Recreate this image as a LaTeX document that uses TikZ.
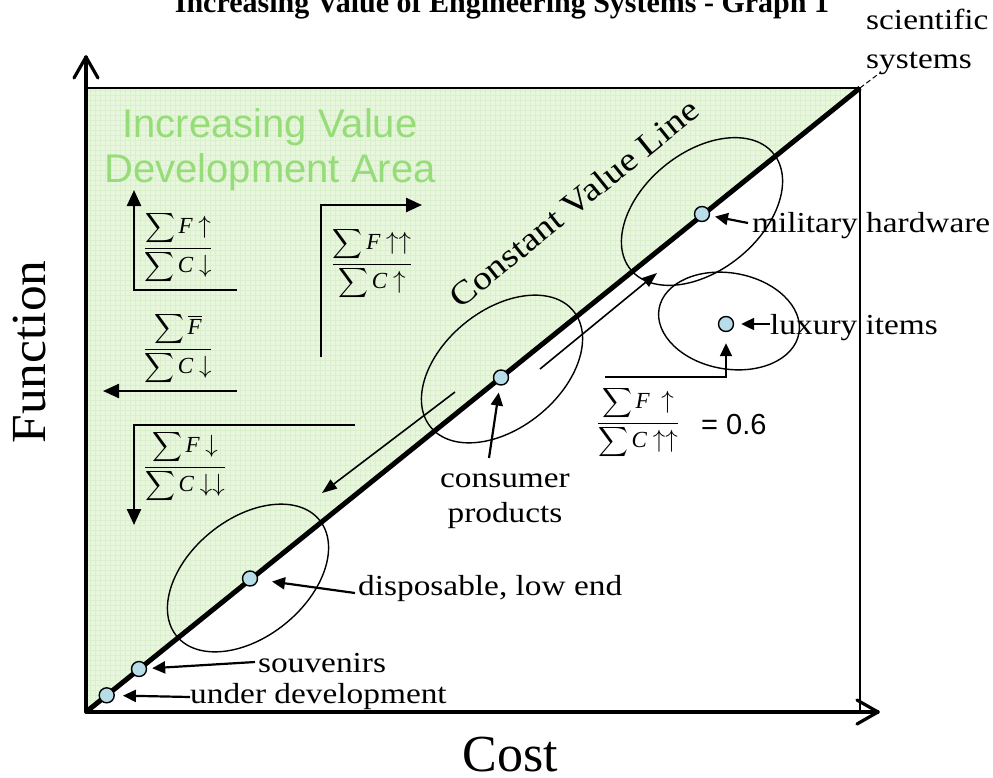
\documentclass[tikz,border=0pt]{standalone}
\usepackage{exscale}
\usepackage{fontspec}
\setmainfont{Liberation Serif}
\newfontfamily\mincho[FakeStretch=1.15]{Liberation Serif}
\newfontfamily\bigmincho[FakeStretch=1.05]{Liberation Serif}
\newfontfamily\arialf{Liberation Sans}
\usetikzlibrary{arrows.meta}
\newcommand{\vF}{\mathord{\hbox{\fontsize{23}{26}\selectfont\itshape F}}}
\newcommand{\vC}{\mathord{\hbox{\fontsize{23}{26}\selectfont\itshape C}}}
\newcommand{\au}{\mathrel{\hbox{\fontsize{24.88}{26}\selectfont$\uparrow$}}}
\newcommand{\ad}{\mathrel{\hbox{\fontsize{24.88}{26}\selectfont$\downarrow$}}}
\definecolor{areagreen}{RGB}{231,246,221}
\definecolor{gridgreen}{RGB}{218,239,204}
\definecolor{textgreen}{RGB}{150,220,120}
\definecolor{ptblue}{RGB}{183,222,232}
\tikzset{
  dot/.style={circle,draw=black,line width=1.4pt,fill=ptblue,minimum size=15pt,inner sep=0pt},
  lbl/.style={font=\mincho\fontsize{29}{32}\selectfont,inner sep=0pt,anchor=base west},
  ring/.style={draw=black,line width=1.4pt},
  fracnode/.style={inner sep=0pt,font=\fontsize{22}{26}\selectfont},
  labarrow/.style={line width=2.2pt,-{Triangle[length=13pt,width=12pt]}},
  dirarrow/.style={line width=2.4pt,line join=miter,-{Triangle[length=16pt,width=14pt]}},
  trend/.style={line width=1.6pt,-{Triangle[length=15pt,width=11pt]}},
  axisline/.style={line width=3.2pt,line cap=round,line join=round},
}
\begin{document}
\begin{tikzpicture}[x=1pt,y=-1pt]
\useasboundingbox (0,0) rectangle (993,777);
% frame coordinates
\coordinate (O) at (86,712);
\coordinate (TL) at (86,88);
\coordinate (TR) at (860,88);
\coordinate (BR) at (860,712);
\coordinate (Ytip) at (86,57);
\coordinate (Xtip) at (878,712);
\coordinate (sciT) at (881,72);
% green development area
\begin{scope}
\clip (O) -- (TL) -- (TR) -- cycle;
\fill[areagreen] (O) -- (TL) -- (TR) -- cycle;
\draw[gridgreen,line width=0.35pt] (80,720) grid[step=5pt] (870,80);
\end{scope}
% box and constant value line
\draw[line width=2pt] (TL) -- (TR) -- (BR);
\draw[line width=5pt] (O) -- (TR);
\draw[line width=1pt,dash pattern=on 5pt off 3pt] (TR) -- (sciT);
% axes
\draw[axisline] (Ytip) -- (O) -- (Xtip);
\draw[axisline] (74,78) -- (Ytip) -- (98,78);
\draw[axisline] (857,700) -- (Xtip) -- (857,724);
% titles and axis labels
\node[font=\bfseries\fontsize{30}{34}\selectfont,anchor=base,inner sep=0pt] (title) at (502,12.5) {Increasing Value of Engineering Systems - Graph 1};
\node[font=\bigmincho\fontsize{49}{52}\selectfont,rotate=90,inner sep=0pt] (fn) at (30,352) {Function};
\node[font=\fontsize{52}{56}\selectfont,anchor=base,inner sep=0pt] (cost) at (510,771) {Cost};
\node[font=\arialf\fontsize{40}{44}\selectfont,text=textgreen,anchor=base,inner sep=0pt] (area1) at (270,137) {Increasing Value};
\node[font=\arialf\fontsize{40}{44}\selectfont,text=textgreen,anchor=base,inner sep=0pt] (area2) at (270,182) {Development Area};
\node[font=\mincho\fontsize{33}{36}\selectfont,rotate=38.9,inner sep=0pt] (cvl) at (574,203) {Constant Value Line};
% ellipses
\draw[ring,rotate around={39:(248,578)}] (248,578) ellipse [x radius=92,y radius=59];
\draw[ring,rotate around={39:(502,369)}] (502,369) ellipse [x radius=92,y radius=59];
\draw[ring,rotate around={39:(702,211.5)}] (702,211.5) ellipse [x radius=92,y radius=59];
\draw[ring,rotate around={-10:(729,321)}] (729,321) ellipse [x radius=71,y radius=48];
% points
\node[dot] (pUnd) at (106.7,695.3) {};
\node[dot] (pSouv) at (139,669) {};
\node[dot] (pDisp) at (250,578.5) {};
\node[dot] (pCons) at (501,377.5) {};
\node[dot] (pMil) at (702,214) {};
\node[dot] (pLux) at (726,324) {};
% labels
\node[lbl] (tUnd) at (190,703) {under development};
\node[lbl] (tSouv) at (258,672) {souvenirs};
\node[lbl] (tDisp) at (358,595) {disposable, low end};
\node[lbl] (tMil) at (752,232) {military hardware};
\node[lbl] (tLux) at (770,334) {luxury items};
\node[lbl] (tSci1) at (866,29) {scientific};
\node[lbl] (tSci2) at (866,68) {systems};
\node[lbl,anchor=base] (tCons1) at (505,487) {consumer};
\node[lbl,anchor=base] (tCons2) at (505,522) {products};
% label arrows
\coordinate (cUndT) at (190,697);
\coordinate (cSouvT) at (255,662);
\coordinate (cDispT) at (355,593);
\coordinate (cMilT) at (748,223);
\coordinate (cLuxT) at (770,324);
\coordinate (cConsT) at (489,458);
\coordinate (cLuxF) at (605,377);
\draw[labarrow,shorten >=8pt] (cUndT) -- (pUnd);
\draw[labarrow,shorten >=5pt] (cSouvT) -- (pSouv);
\draw[labarrow,shorten >=14pt] (cDispT) -- (pDisp);
\draw[labarrow,shorten >=5pt] (cMilT) -- (pMil);
\draw[labarrow,shorten >=7pt] (cLuxT) -- (pLux);
\draw[labarrow,shorten >=7pt] (cConsT) -- (pCons);
\draw[labarrow,line width=1.8pt,shorten >=11pt] (cLuxF) -| (pLux);
% trend arrows along the line
\coordinate (t1s) at (455,392);
\coordinate (t1e) at (322,493);
\coordinate (t2s) at (540,369);
\coordinate (t2e) at (657,273);
\draw[trend] (t1s) -- (t1e);
\draw[trend] (t2s) -- (t2e);
% direction arrows
\coordinate (d1s) at (237,290); \coordinate (d1c) at (134,290); \coordinate (d1t) at (134,190);
\coordinate (d2s) at (237,391); \coordinate (d2t) at (103,391);
\coordinate (d3s) at (355,425); \coordinate (d3c) at (134,425); \coordinate (d3t) at (134,525);
\coordinate (d4s) at (321,357); \coordinate (d4c) at (321,205); \coordinate (d4t) at (422,205);
\draw[dirarrow] (d1s) -- (d1c) -- (d1t);
\draw[dirarrow] (d2s) -- (d2t);
\draw[dirarrow] (d3s) -- (d3c) -- (d3t);
\draw[dirarrow] (d4s) -- (d4c) -- (d4t);
% fractions
\node[fracnode] (f1) at (178,248) {$\displaystyle\frac{\displaystyle\sum \vF\au}{\displaystyle\sum \vC\ad}$};
\node[fracnode] (f2) at (178,349) {$\displaystyle\frac{\displaystyle\sum \overline{\vF}}{\displaystyle\sum \vC\ad}$};
\node[fracnode] (f3) at (185,467) {$\displaystyle\frac{\displaystyle\sum \vF\ad}{\displaystyle\sum \vC\ad\ad}$};
\node[fracnode] (f4) at (372,264) {$\displaystyle\frac{\displaystyle\sum \vF\au\au}{\displaystyle\sum \vC\au}$};
\node[fracnode] (f5) at (638,423) {$\displaystyle\frac{\displaystyle\sum \vF\;\au}{\displaystyle\sum \vC\au\au}$};
\node[font=\arialf\fontsize{29}{32}\selectfont,inner sep=0pt,anchor=base west] (eq) at (701,434) {= 0.6};
\end{tikzpicture}
\end{document}
